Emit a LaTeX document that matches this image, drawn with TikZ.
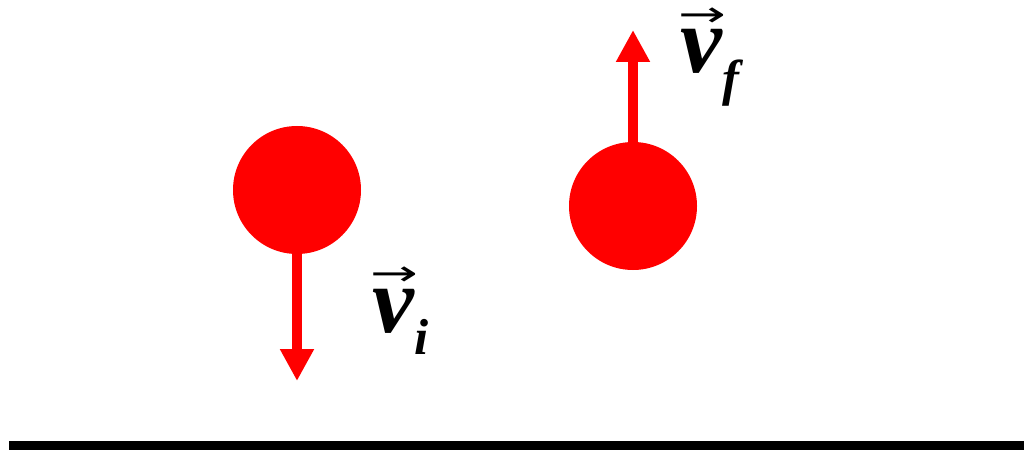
\documentclass[tikz,border=0pt]{standalone}
\usepackage{fontspec}
\setmainfont{Liberation Serif}
\newfontfamily\arrowfont{DejaVu Sans}
\usetikzlibrary{arrows.meta}

\newcommand{\velo}[1]{\makebox[0pt][l]{\hspace{-1pt}\raisebox{33pt}{\fontsize{28}{28}\arrowfont\scalebox{1.45}[0.9]{→}}}%
  {\bfseries\itshape v}\raisebox{-16pt}{\fontsize{36}{36}\selectfont\bfseries\itshape #1}}

\begin{document}
\begin{tikzpicture}[
  ball/.style={circle, fill=red, minimum size=32mm, inner sep=0pt},
  vel/.style={-{Triangle[length=8mm, width=8mm]}, red, line width=2.5mm},
  lbl/.style={anchor=base west, inner sep=0pt,
              font=\fontsize{67}{67}\selectfont},
]
\useasboundingbox (0,0) rectangle (25.6,11.25);
% ground
\coordinate (gl) at (0.225,0.1125);
\coordinate (gr) at (25.6,0.1125);
\draw[line width=2.25mm] (gl) -- (gr);
% ball going down
\node[ball] (b1) at (7.425,6.5) {};
\coordinate (t1) at (7.425,1.725);
\draw[vel] (b1.south) -- (t1);
\node[lbl] (vi) at (9.3,2.95) {\velo{i}};
% ball going up
\node[ball] (b2) at (15.825,6.1) {};
\coordinate (t2) at (15.825,10.5);
\draw[vel] (b2.north) -- (t2);
\node[lbl] (vf) at (17.0,9.425) {\velo{f}};
\end{tikzpicture}
\end{document}
